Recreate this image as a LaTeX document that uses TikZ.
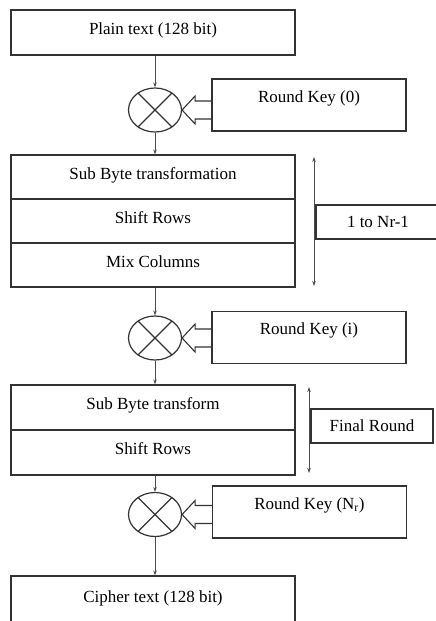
\documentclass[tikz,border=0pt]{standalone}
\usepackage{fontspec}
\setmainfont{Liberation Serif}
\usetikzlibrary{shapes.geometric,arrows.meta,calc}
\begin{document}
\begin{tikzpicture}[x=1pt,y=-1pt,
  every node/.style={font=\fontsize{17}{20}\selectfont, text=black},
  stagebox/.style={draw=black!80, line width=1.2pt, minimum width=284pt, minimum height=44pt, inner sep=0pt, text height=12pt, text depth=8pt},
  keybox/.style={draw=black!80, line width=1.2pt, minimum width=194pt, minimum height=52pt, inner sep=0pt, text height=12pt, text depth=18pt},
  tagbox/.style={draw=black!80, line width=1.2pt, minimum height=34pt, inner sep=0pt},
  xorcircle/.style={draw=black!80, ellipse, line width=1.2pt, minimum width=53pt, minimum height=44pt, inner sep=0pt},
  flowarrow/.style={draw=black!70, line width=0.8pt, -{Stealth[length=5pt,width=3.5pt]}},
  rangearrow/.style={draw=black!70, line width=0.8pt, {Stealth[length=5pt,width=3.5pt]}-{Stealth[length=5pt,width=3.5pt]}},
  keyarrow/.style={draw=black!80, line width=1.1pt, line join=miter},
  crossline/.style={draw=black!80, line width=1.1pt}
]
\useasboundingbox (0,0) rectangle (436,621);

% nodes
\node[stagebox, minimum height=45pt] (pt) at (153,32.5) {Plain text (128 bit)};
\node[xorcircle] (x1) at (155,110) {};
\node[keybox] (rk0) at (309,105) {Round Key (0)};

\node[stagebox] (sub1) at (153,177) {Sub Byte transformation};
\node[stagebox] (shift1) at (153,221) {Shift Rows};
\node[stagebox] (mix1) at (153,265) {Mix Columns};
\coordinate (r1top) at (314,157);
\coordinate (r1bot) at (314,286);
\node[tagbox, minimum width=124pt] (nr1) at (378,222) {1 to Nr-1};

\node[xorcircle] (x2) at (155,338) {};
\node[keybox] (rki) at (309,337.5) {Round Key (i)};

\node[stagebox, minimum height=45pt] (sub2) at (153,407.5) {Sub Byte transform};
\node[stagebox, minimum height=45pt] (shift2) at (153,452.5) {Shift Rows};
\coordinate (r2top) at (309,387);
\coordinate (r2bot) at (309,473);
\node[tagbox, minimum width=122pt] (fr) at (372,426) {Final Round};

\node[xorcircle] (x3) at (155,514.5) {};
\node[keybox] (rkn) at (309.5,512) {Round Key (N\textsubscript{r})};

\node[stagebox, minimum height=48pt] (ct) at (153,600) {Cipher text (128 bit)};

% crosses in xor circles
\foreach \c in {x1,x2,x3}{
  \draw[crossline] (\c.45) -- (\c.225) (\c.135) -- (\c.315);
}

% block arrows from round keys
\foreach \c/\k in {x1/rk0,x2/rki,x3/rkn}{
  \draw[keyarrow] ($(\c.east -| \k.west)+(0,-9)$) -- ($(\c.east)+(13,-9)$) -- ($(\c.east)+(13,-14)$)
     -- (\c.east) -- ($(\c.east)+(13,14)$) -- ($(\c.east)+(13,9)$) -- ($(\c.east -| \k.west)+(0,9)$);
}

% flow connectors
\draw[flowarrow] (pt.south -| x1) -- (x1.north);
\draw[flowarrow] (x1.south) -- (x1.south |- sub1.north);
\draw[flowarrow] (mix1.south -| x2) -- (x2.north);
\draw[flowarrow] (x2.south) -- (x2.south |- sub2.north);
\draw[flowarrow] (shift2.south -| x3) -- (x3.north);
\draw[flowarrow] (x3.south) -- (x3.south |- ct.north);

% round ranges
\draw[rangearrow] (r1top) -- (r1bot);
\draw[rangearrow] (r2top) -- (r2bot);
\end{tikzpicture}
\end{document}
